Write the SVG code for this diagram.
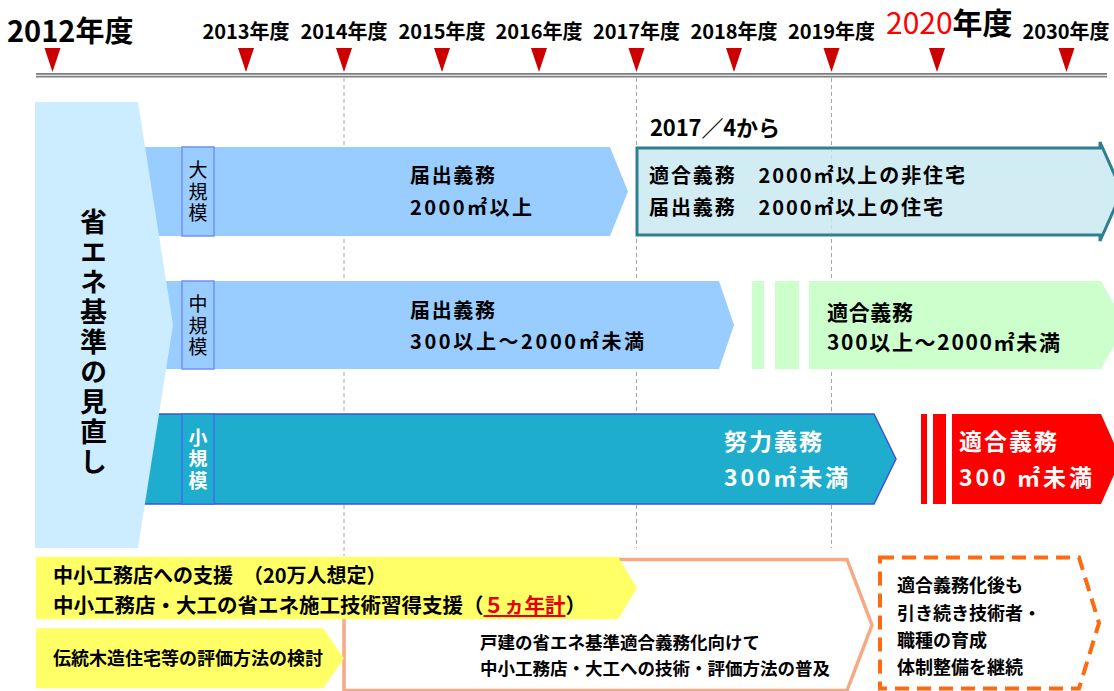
<svg xmlns="http://www.w3.org/2000/svg" width="1114" height="691" viewBox="0 0 1114 691">
<style>
text{font-family:"Noto Sans CJK JP","Noto Sans CJK SC",sans-serif;fill:#000}
.b{font-weight:bold}
.yr{font-size:20px;font-weight:bold;text-anchor:middle}
.tri{fill:#CC0000}
.vd{stroke:#A6A6A6;stroke-width:1;stroke-dasharray:4 3;fill:none}
.lbl{font-size:19px;writing-mode:vertical-rl;letter-spacing:2.5px}
.t20{font-size:20px;font-weight:bold}
.w{fill:#FFFFFF}
</style>
<defs>
<polygon id="tri" points="-8,48 8,48 0,72"/>
</defs>

<g id="guides">
<line class="vd" x1="344" y1="78" x2="344" y2="556"/>
<line class="vd" x1="636.5" y1="78" x2="636.5" y2="548"/>
<line class="vd" x1="831.5" y1="78" x2="831.5" y2="548"/>
</g>

<g id="timeline">
<line x1="36" y1="75.3" x2="1107" y2="75.3" stroke="#7F7F7F" stroke-width="4.5"/>
<line x1="36" y1="75.3" x2="1107" y2="75.3" stroke="#E3E3E3" stroke-width="1.2"/>
<use href="#tri" class="tri" x="52.5"/>
<use href="#tri" class="tri" x="246"/>
<use href="#tri" class="tri" x="344"/>
<use href="#tri" class="tri" x="442"/>
<use href="#tri" class="tri" x="539"/>
<use href="#tri" class="tri" x="636.5"/>
<use href="#tri" class="tri" x="734"/>
<use href="#tri" class="tri" x="831.5"/>
<use href="#tri" class="tri" x="937"/>
<use href="#tri" class="tri" x="1066.5"/>
<text x="7" y="41.5" class="b" style="font-size:29px">2012年度</text>
<text x="246" y="38.5" class="yr">2013年度</text>
<text x="344" y="38.5" class="yr">2014年度</text>
<text x="442" y="38.5" class="yr">2015年度</text>
<text x="539" y="38.5" class="yr">2016年度</text>
<text x="636.5" y="38.5" class="yr">2017年度</text>
<text x="734" y="38.5" class="yr">2018年度</text>
<text x="831.5" y="38.5" class="yr">2019年度</text>
<text x="886" y="33.5" style="font-size:30px"><tspan style="fill:#FF0000">2020</tspan><tspan class="b">年度</tspan></text>
<text x="1066" y="38.5" class="yr">2030年度</text>
</g>

<g id="row-large">
<polygon points="140,147 610,147 628,191.5 610,236 140,236" fill="#99CCFF"/>
<text x="410" y="183" class="t20" textLength="85">届出義務</text>
<text x="410" y="215" class="t20" textLength="122">2000㎡以上</text>
</g>

<g id="row-large-new">
<path d="M637,148 L1100,148 L1100,142 L1122,191.5 L1100,241 L1100,235 L637,235 Z" fill="rgb(200,232,242)" fill-opacity="0.82" stroke="#307E91" stroke-width="3"/>
<text x="650" y="136" class="b" style="font-size:22px" textLength="130">2017／4から</text>
<text x="649" y="183" class="t20" textLength="316">適合義務　2000㎡以上の非住宅</text>
<text x="649" y="215" class="t20" textLength="294">届出義務　2000㎡以上の住宅</text>
</g>

<g id="row-medium">
<polygon points="140,281 719,281 734,325 719,369 140,369" fill="#99CCFF"/>
<text x="410" y="318" class="t20" textLength="85">届出義務</text>
<text x="410" y="349" class="t20" textLength="234">300以上～2000㎡未満</text>
</g>

<g id="row-medium-new">
<rect x="752" y="281" width="12" height="88" fill="#CCFFCC"/>
<rect x="775" y="281" width="24" height="88" fill="#CCFFCC"/>
<polygon points="809,281 1101,281 1126,325 1101,369 809,369" fill="#CCFFCC"/>
<text x="827" y="320" class="b" style="font-size:21px" textLength="86">適合義務</text>
<text x="827" y="350" class="b" style="font-size:21px" textLength="233">300以上～2000㎡未満</text>
</g>

<g id="row-small">
<polygon points="140,414 874,414 896,459 874,504 140,504" fill="#1FADCE" stroke="#3F51D8" stroke-width="1.5"/>
<text x="724" y="450" class="b w" style="font-size:23px" textLength="98">努力義務</text>
<text x="724" y="486" class="b w" style="font-size:23px" textLength="124">300㎡未満</text>
</g>

<g id="row-small-new">
<rect x="921" y="414" width="6" height="90" fill="#FF0000"/>
<rect x="933" y="414" width="13" height="90" fill="#FF0000"/>
<polygon points="952,414 1101,414 1121,459 1101,504 952,504" fill="#FF0000"/>
<text x="959" y="450" class="b w" style="font-size:23px" textLength="98">適合義務</text>
<text x="959" y="486" class="b w" style="font-size:23px" textLength="133">300 ㎡未満</text>
</g>

<g id="review">
<polygon points="35,102 138,102 173,325 138,548 35,548" fill="#CCECFF"/>
<text x="93.5" y="208" class="b" style="font-size:27px;writing-mode:vertical-rl;letter-spacing:3px">省エネ基準の見直し</text>
</g>

<g id="label-large">
<rect x="182" y="147" width="32" height="89" fill="#99CCFF" stroke="#6F8FFF" stroke-width="1.5"/>
<text x="198" y="160.5" class="lbl">大規模</text>
</g>
<g id="label-medium">
<rect x="182" y="281" width="32" height="88" fill="#99CCFF" stroke="#6F8FFF" stroke-width="1.5"/>
<text x="198" y="294.5" class="lbl">中規模</text>
</g>
<g id="label-small">
<rect x="182" y="414" width="32" height="90" fill="#1FADCE" stroke="#3F6FF0" stroke-width="1.5"/>
<text x="198" y="428" class="lbl b w">小規模</text>
</g>

<g id="spread">
<path d="M344,559.5 L847,559.5 L872,625 L847,690.5 L344,690.5 Z" fill="#FFFFFF" stroke="#F7A982" stroke-width="3.5"/>
<text x="480" y="649" class="b" style="font-size:17.5px">戸建の省エネ基準適合義務化向けて</text>
<text x="480" y="675" class="b" style="font-size:17.5px">中小工務店・大工への技術・評価方法の普及</text>
</g>

<g id="support">
<polygon points="36,556.7 618,556.7 637,588 618,619.3 36,619.3" fill="#FFFF66"/>
<text x="53" y="583" class="t20">中小工務店への支援　（20万人想定）</text>
<text x="53" y="613" class="t20" style="font-size:20.5px">中小工務店・大工の省エネ施工技術習得支援（<tspan style="fill:#E60000;text-decoration:underline">５ヵ年計</tspan>）</text>
</g>

<g id="traditional">
<polygon points="36,628.3 323,628.3 344,658.3 323,688.3 36,688.3" fill="#FFFF66"/>
<text x="53" y="665" class="b" style="font-size:18px">伝統木造住宅等の評価方法の検討</text>
</g>

<g id="continue">
<path d="M880,557.5 L1079,557.5 L1099,623 L1079,688.5 L880,688.5 Z" fill="#FFFFFF" stroke="#FF6A10" stroke-width="4" stroke-dasharray="14 8"/>
<text x="897" y="592" class="b" style="font-size:18px">適合義務化後も</text>
<text x="897" y="620" class="b" style="font-size:18px">引き続き技術者・</text>
<text x="897" y="647" class="b" style="font-size:18px">職種の育成</text>
<text x="897" y="674" class="b" style="font-size:18px">体制整備を継続</text>
</g>
</svg>
